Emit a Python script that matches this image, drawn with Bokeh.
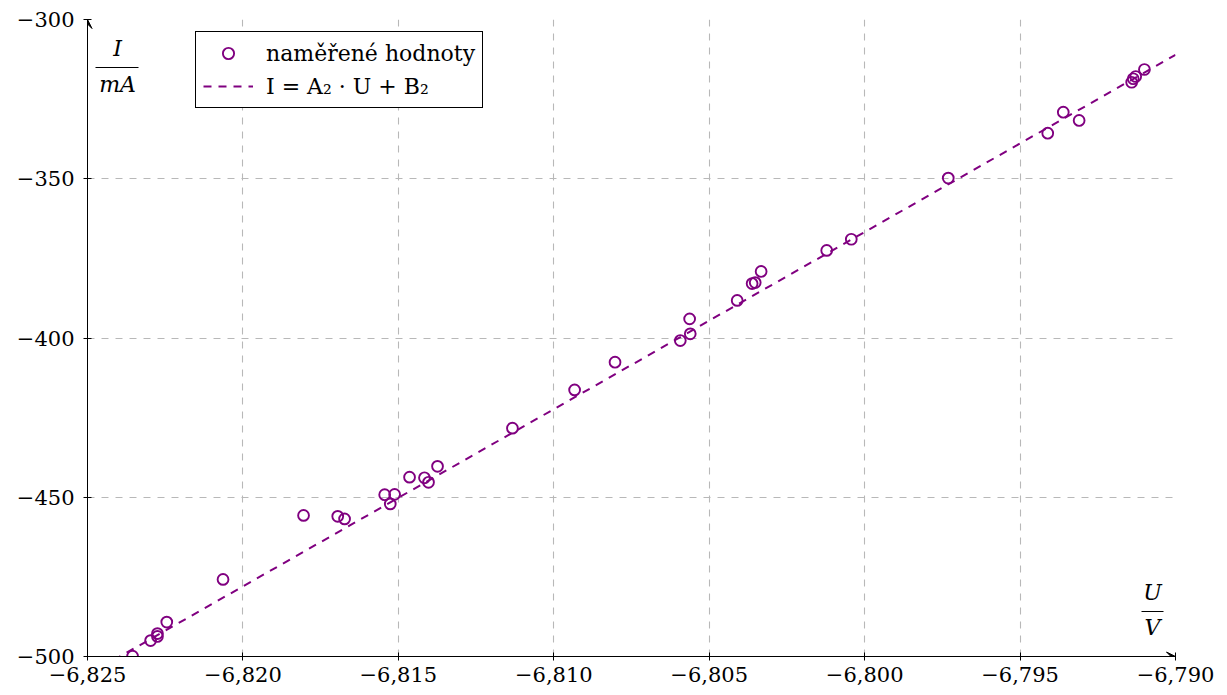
from bokeh.plotting import figure
from bokeh.models import Range1d, FixedTicker, Label, Arrow, VeeHead, Legend, LegendItem
from bokeh.embed import file_html
from bokeh.resources import INLINE

# ---- data ----
u_meas = [-6.82355, -6.82297, -6.82275, -6.82275, -6.82245, -6.82064,
          -6.81805, -6.81695, -6.81673, -6.81544, -6.81512, -6.81526,
          -6.81464, -6.81416, -6.81403, -6.81374, -6.81133, -6.80933,
          -6.80803, -6.80593, -6.80561, -6.80563, -6.80410, -6.80362,
          -6.80352, -6.80333, -6.80122, -6.80043, -6.79731, -6.79411,
          -6.79361, -6.79310, -6.79141, -6.79136, -6.79128, -6.79100]
i_meas = [-499.9, -495.0, -492.8, -493.7, -489.2, -475.8,
          -455.7, -456.0, -456.8, -449.2, -449.1, -452.1,
          -443.7, -443.9, -445.3, -440.3, -428.3, -416.3,
          -407.6, -400.8, -398.7, -394.0, -388.2, -382.9,
          -382.6, -379.1, -372.5, -369.0, -349.8, -335.7,
          -329.1, -331.7, -319.7, -318.6, -317.9, -315.7]

fit_u = [-6.825, -6.790]
fit_i = [-505.8, -311.1]

x_ticks = [-6.825, -6.820, -6.815, -6.810, -6.805, -6.800, -6.795, -6.790]
x_tick_labels = ["−6,825", "−6,820", "−6,815", "−6,810", "−6,805", "−6,800", "−6,795", "−6,790"]
y_ticks = [-500, -450, -400, -350, -300]
y_tick_labels = ["−500", "−450", "−400", "−350", "−300"]

legend_labels = ["naměřené hodnoty", "I = A₂ · U + B₂"]

PURPLE = "#800080"
FONT = "DejaVu Serif"

X0, X1 = -6.825, -6.790
Y0, Y1 = -500, -300
FW, FH = 1088, 637
FL, FT = 87, 19  # frame left/top in page pixels


def px(xp):
    return X0 + (xp - FL) / FW * (X1 - X0)


def py(yp):
    return Y1 - (yp - FT) / FH * (Y1 - Y0)


p = figure(width=FL + FW + 44, height=FT + FH + 36,
           x_range=Range1d(X0, X1), y_range=Range1d(Y0, Y1),
           output_backend="svg", toolbar_location=None,
           min_border_left=FL, min_border_right=44,
           min_border_top=FT, min_border_bottom=36)
p.outline_line_color = None
p.background_fill_color = "white"
p.border_fill_color = "white"

for ax, ticks, labels in ((p.xaxis[0], x_ticks, x_tick_labels), (p.yaxis[0], y_ticks, y_tick_labels)):
    ax.ticker = FixedTicker(ticks=ticks)
    ax.major_label_overrides = dict(zip(ticks, labels))
    ax.major_label_text_font = FONT
    ax.major_label_text_font_size = "21px"
    ax.major_label_text_color = "black"
    ax.axis_line_color = "black"
    ax.axis_line_width = 1
    ax.major_tick_line_color = "black"
    ax.major_tick_in = 4
    ax.major_tick_out = 4
    ax.minor_tick_line_color = None
p.xaxis.major_label_standoff = 6
p.yaxis.major_label_standoff = 9

for g in (p.xgrid[0], p.ygrid[0]):
    g.grid_line_color = "#b8b8b8"
    g.grid_line_dash = "7 7"
    g.grid_line_width = 1.1

fit_r = p.line(fit_u, fit_i, line_color=PURPLE, line_width=2, line_dash="8 7")
pts_r = p.scatter(u_meas, i_meas, marker="circle", size=10.8, fill_color=None,
                  line_color=PURPLE, line_width=1.9)

# axis arrows
p.add_layout(Arrow(end=VeeHead(size=9, line_color="black", line_width=1, fill_color="black"),
                   x_start=X0, y_start=Y0, x_end=X0, y_end=Y1, line_color="black", line_width=1))
p.add_layout(Arrow(end=VeeHead(size=9, line_color="black", line_width=1, fill_color="black"),
                   x_start=X0, y_start=Y0, x_end=X1, y_end=Y0, line_color="black", line_width=1))

# axis labels as fractions
def lab(text, xp, yp):
    p.add_layout(Label(x=px(xp), y=py(yp), text=text, text_font=FONT, text_font_style="italic",
                       text_font_size="22px", text_align="center", text_baseline="middle",
                       text_color="black"))

lab("I", 117, 48)
lab("mA", 117, 84)
p.segment(x0=[px(95)], y0=[py(67)], x1=[px(138)], y1=[py(67)], line_color="black", line_width=1.2)
lab("U", 1152, 592)
lab("V", 1152, 627)
p.segment(x0=[px(1141)], y0=[py(611)], x1=[px(1163)], y1=[py(611)], line_color="black", line_width=1.2)

legend = Legend(items=[LegendItem(label=legend_labels[0], renderers=[pts_r]),
                       LegendItem(label=legend_labels[1], renderers=[fit_r])],
                location=(108, 548))
legend.label_text_font = FONT
legend.label_text_font_size = "22px"
legend.label_text_color = "black"
legend.border_line_color = "black"
legend.border_line_alpha = 1
legend.border_line_width = 1
legend.background_fill_color = "white"
legend.background_fill_alpha = 1
legend.padding = 7
legend.spacing = 5
legend.margin = 0
legend.glyph_width = 50
legend.glyph_height = 28
legend.label_height = 28
legend.label_standoff = 13
p.add_layout(legend)

open("out.html", "w").write(file_html(p, INLINE))
